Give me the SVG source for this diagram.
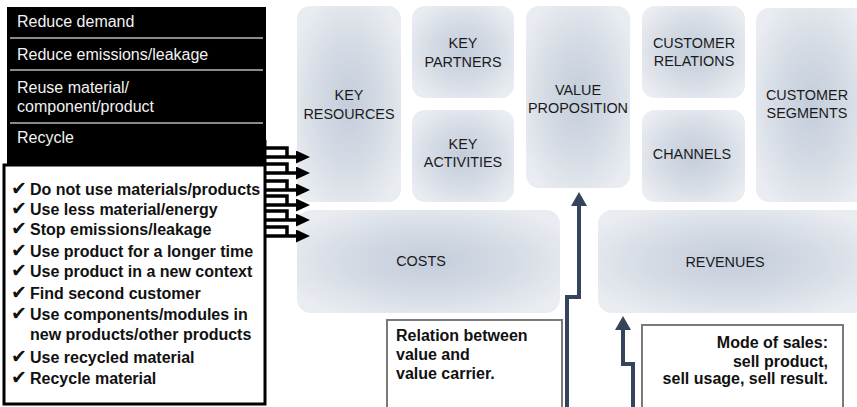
<svg xmlns="http://www.w3.org/2000/svg" width="857" height="407" viewBox="0 0 857 407">
<defs>
<radialGradient id="blk" cx="0.5" cy="0.5" r="0.6">
<stop offset="0" stop-color="#c3cddb"/>
<stop offset="0.55" stop-color="#d6dce5"/>
<stop offset="1" stop-color="#e9ecf1"/>
</radialGradient>
<marker id="headBlack" markerUnits="userSpaceOnUse" markerWidth="14" markerHeight="13" refX="0" refY="6.5" orient="auto" viewBox="0 0 14 13">
<path d="M0,0 L14,6.5 L0,13 z" fill="#000"/>
</marker>
<marker id="headNavy" markerUnits="userSpaceOnUse" markerWidth="15" markerHeight="16" refX="0" refY="8" orient="auto" viewBox="0 0 15 16">
<path d="M0,0 L14,8 L0,16 z" fill="#34445c"/>
</marker>
</defs>
<style>
.blk{fill:url(#blk);}
.lbl{font-family:"Liberation Sans",Arial,sans-serif;font-size:14.4px;fill:#1a1a1a;text-anchor:middle;}
.wt{font-family:"Liberation Sans",Arial,sans-serif;font-size:16px;fill:#f2f2f2;}
.bd{font-family:"Liberation Sans",Arial,sans-serif;font-size:16px;font-weight:bold;fill:#111;}
.ck{font-family:"DejaVu Sans",sans-serif;font-size:19px;font-weight:normal;}
.div{stroke:#8a8a8a;stroke-width:2;}
.la{fill:none;stroke:#000;stroke-width:3.5;marker-end:url(#headBlack);}
.ua{fill:none;stroke:#34445c;stroke-width:4;marker-end:url(#headNavy);}
.note{fill:#fff;stroke:#7a7a7a;stroke-width:2;}
</style>
<rect width="857" height="407" fill="#fff"/>

<g id="key-resources">
<rect class="blk" x="297" y="6" width="104" height="196" rx="13"/>
<text class="lbl" x="349" y="100">KEY</text>
<text class="lbl" x="349" y="119">RESOURCES</text>
</g>
<g id="key-partners">
<rect class="blk" x="412" y="6" width="102" height="92" rx="13"/>
<text class="lbl" x="463" y="48">KEY</text>
<text class="lbl" x="463" y="67">PARTNERS</text>
</g>
<g id="key-activities">
<rect class="blk" x="412" y="110" width="102" height="92" rx="13"/>
<text class="lbl" x="463" y="149">KEY</text>
<text class="lbl" x="463" y="167">ACTIVITIES</text>
</g>
<g id="value-proposition">
<rect class="blk" x="526" y="6" width="104" height="182" rx="13"/>
<text class="lbl" x="578" y="95">VALUE</text>
<text class="lbl" x="578" y="113">PROPOSITION</text>
</g>
<g id="customer-relations">
<rect class="blk" x="642" y="6" width="103" height="92" rx="13"/>
<text class="lbl" x="694" y="48">CUSTOMER</text>
<text class="lbl" x="694" y="66">RELATIONS</text>
</g>
<g id="channels">
<rect class="blk" x="642" y="110" width="103" height="92" rx="13"/>
<text class="lbl" x="692" y="159">CHANNELS</text>
</g>
<g id="customer-segments">
<rect class="blk" x="756" y="8" width="112" height="194" rx="13"/>
<text class="lbl" x="807" y="100">CUSTOMER</text>
<text class="lbl" x="807" y="118">SEGMENTS</text>
</g>
<g id="costs">
<rect class="blk" x="297" y="210" width="263" height="103" rx="14"/>
<text class="lbl" x="421" y="266">COSTS</text>
</g>
<g id="revenues">
<rect class="blk" x="598" y="210" width="270" height="103" rx="14"/>
<text class="lbl" x="725" y="267">REVENUES</text>
</g>

<g id="strategies">
<rect x="7" y="7" width="259" height="159" fill="#000"/>
<line class="div" x1="10" y1="38" x2="263" y2="38"/>
<line class="div" x1="10" y1="70" x2="263" y2="70"/>
<line class="div" x1="10" y1="123" x2="263" y2="123"/>
<text class="wt" x="17" y="27">Reduce demand</text>
<text class="wt" x="17" y="60">Reduce emissions/leakage</text>
<text class="wt" x="17" y="93">Reuse material/</text>
<text class="wt" x="17" y="112">component/product</text>
<text class="wt" x="17" y="143">Recycle</text>
</g>

<g id="checklist">
<rect x="4" y="165" width="261" height="239" fill="#fff" stroke="#000" stroke-width="3"/>
<text class="bd" x="11" y="195"><tspan class="ck">✔</tspan><tspan x="30">Do not use materials/products</tspan></text>
<text class="bd" x="11" y="215"><tspan class="ck">✔</tspan><tspan x="30">Use less material/energy</tspan></text>
<text class="bd" x="11" y="235"><tspan class="ck">✔</tspan><tspan x="30">Stop emissions/leakage</tspan></text>
<text class="bd" x="11" y="257"><tspan class="ck">✔</tspan><tspan x="30">Use product for a longer time</tspan></text>
<text class="bd" x="11" y="277"><tspan class="ck">✔</tspan><tspan x="30">Use product in a new context</tspan></text>
<text class="bd" x="11" y="299"><tspan class="ck">✔</tspan><tspan x="30">Find second customer</tspan></text>
<text class="bd" x="11" y="320"><tspan class="ck">✔</tspan><tspan x="30">Use components/modules in</tspan></text>
<text class="bd" x="30" y="340">new products/other products</text>
<text class="bd" x="11" y="363"><tspan class="ck">✔</tspan><tspan x="30">Use recycled material</tspan></text>
<text class="bd" x="11" y="384"><tspan class="ck">✔</tspan><tspan x="30">Recycle material</tspan></text>
</g>

<g id="relation-note">
<rect class="note" x="387" y="320" width="175" height="95"/>
<text class="bd" x="396" y="341">Relation between</text>
<text class="bd" x="396" y="360">value and</text>
<text class="bd" x="396" y="379">value carrier.</text>
</g>
<g id="sales-note">
<rect class="note" x="642" y="325" width="201" height="90"/>
<text class="bd" x="828" y="348" text-anchor="end">Mode of sales:</text>
<text class="bd" x="828" y="367" text-anchor="end">sell product,</text>
<text class="bd" x="828" y="384" text-anchor="end">sell usage, sell result.</text>
</g>

<g id="connectors">
<line x1="265" y1="140" x2="265" y2="166" stroke="#000" stroke-width="3"/>
<path class="la" d="M265,157 H287 M265,148 H287 V157 H296"/>
<path class="la" d="M265,173 H287 M265,164 H287 V173 H296"/>
<path class="la" d="M265,190 H287 M265,181 H287 V190 H296"/>
<path class="la" d="M265,205 H287 M265,196 H287 V205 H296"/>
<path class="la" d="M265,220 H287 M265,211 H287 V220 H296"/>
<path class="la" d="M265,236 H287 M265,227 H287 V236 H296"/>
<path class="ua" d="M567,407 V297 H579 V206"/>
<path class="ua" d="M633,407 V364 H623 V330"/>
</g>
</svg>
